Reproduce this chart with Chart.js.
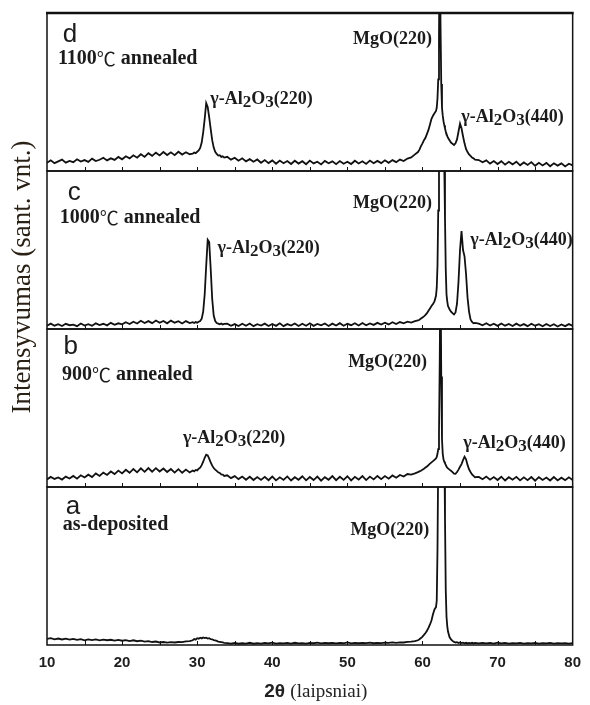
<!DOCTYPE html>
<html>
<head>
<meta charset="utf-8">
<script src="https://cdn.jsdelivr.net/npm/chart.js@4/dist/chart.umd.min.js"></script>
<style>
  html, body { margin: 0; padding: 0; background: #ffffff; }
  canvas { display: block; }
</style>
</head>
<body>
<canvas id="xrd" width="590" height="705"></canvas>
<script>
// Diffraction angle 2θ (degrees), shared by all four patterns
const twoTheta = [
  10,10.5,11,11.5,12,12.5,13,13.5,14,14.5,15,15.5,16,16.5,17,17.5,18,18.5,19,19.5,20,20.5,21,21.5,22,22.5,23,23.5,24,24.5,25,25.5,26,26.5,27,27.5,28,28.5,29,
  29.4,29.6,29.8,30,30.2,30.4,30.6,30.8,31,31.2,31.4,31.6,31.8,32,32.2,32.4,32.6,32.8,33,33.2,33.4,33.6,
  34,34.5,35,35.5,36,36.5,37,37.5,38,38.5,39,39.5,40,40.5,41,41.5,42,42.5,43,43.5,44,44.5,45,45.5,46,46.5,47,47.5,48,48.5,49,49.5,50,50.5,51,51.5,52,52.5,53,53.5,54,54.5,55,55.5,56,56.5,57,57.5,58,58.5,59,
  59.4,59.6,59.8,60,60.2,60.4,60.6,60.8,61,61.2,61.4,61.6,61.8,
  61.9,62,62.1,62.2,62.3,62.4,62.5,62.6,62.7,62.8,62.9,63,63.1,63.2,63.3,63.4,
  63.6,63.8,64,64.2,64.4,64.6,64.8,65,65.2,65.4,65.6,65.8,66,66.2,66.4,66.6,66.8,67,
  67.5,68,68.5,69,69.5,70,70.5,71,71.5,72,72.5,73,73.5,74,74.5,75,75.5,76,76.5,77,77.5,78,78.5,79,79.5,80
];

// (d) 1100 °C annealed
const intensity1100 = [
  5.2,6.8,5.0,6.1,7.2,5.3,6.4,5.6,7.4,6.0,6.9,5.8,7.8,6.3,7.1,8.4,6.7,8.0,7.0,8.9,7.4,9.3,8.0,9.9,8.4,10.6,8.9,11.3,9.6,11.6,9.9,12.0,10.1,11.8,10.0,12.2,10.4,11.9,10.6,
  11.0,11.7,11.3,12.2,13.0,14.6,18.0,24.5,33.0,43.0,40.5,34.0,26.5,19.5,14.8,12.2,10.8,9.8,10.0,8.9,9.3,8.5,
  9.0,7.2,8.4,6.5,8.0,6.1,7.5,5.9,7.3,5.2,6.9,5.0,6.7,4.6,6.6,4.9,6.3,4.4,6.5,4.7,6.2,4.3,6.6,4.8,5.9,4.2,6.4,4.9,6.1,4.3,6.3,4.6,5.9,4.4,6.5,4.8,6.2,4.5,6.6,4.9,6.4,5.0,6.8,5.2,6.9,5.6,7.2,6.3,7.9,8.6,10.5,
  12.0,13.5,15.8,17.5,19.5,21.0,23.5,26.0,29.5,33.0,35.0,36.5,38.0,
  40,46,58,85,150,95,55,40,35,31.5,29,27,25,23.5,22,21,
  19.5,18.0,17.2,16.5,17.5,20.0,25.0,30.0,27.0,22.0,17.5,14.0,12.0,10.5,9.6,8.5,8.0,7.2,
  6.9,5.5,6.7,4.7,6.3,4.4,6.2,4.0,5.8,4.2,5.9,3.6,5.4,3.8,5.6,3.3,5.2,3.5,5.1,3.0,4.9,3.4,4.8,2.9,4.6,3.6
];

// (c) 1000 °C annealed
const intensity1000 = [
  2.0,3.4,2.1,3.0,1.9,3.3,2.4,2.8,1.8,3.5,2.2,3.1,2.0,3.6,2.5,3.3,2.3,3.9,2.7,3.6,3.0,4.3,3.2,4.6,3.5,5.2,3.8,5.0,3.7,5.4,3.9,5.1,3.6,5.3,4.0,4.9,3.5,5.0,3.8,
  4.3,3.8,4.4,4.0,4.6,5.0,6.5,11.0,22.0,40.0,56.5,55.0,38.0,19.0,8.5,5.0,3.8,3.4,3.0,3.5,2.8,3.2,
  3.4,2.0,3.1,1.9,3.3,2.1,3.5,1.8,3.0,2.2,3.4,1.9,3.2,2.0,3.6,1.8,3.1,2.2,3.5,1.9,3.3,2.1,3.6,2.0,3.2,2.3,3.5,1.9,3.4,2.2,3.7,2.1,3.3,2.4,3.6,2.2,3.8,2.4,3.5,2.6,3.9,2.8,4.0,2.9,4.3,3.1,4.4,3.6,4.6,4.1,5.0,
  5.4,5.9,6.6,7.3,8.0,8.9,10.0,11.5,13.0,14.5,15.8,17.5,21.0,
  26,40,75,140,180,200,200,190,170,140,105,70,38,22,17.5,14.5,
  12.5,11.0,10.0,9.2,10.5,16.0,30.0,50.0,62.0,50.0,46.0,35.0,20.0,11.0,6.0,4.5,3.6,3.9,
  3.4,2.4,3.6,2.2,3.3,2.0,3.5,2.1,3.2,1.9,3.4,2.0,3.1,1.8,3.3,2.1,3.0,1.7,3.2,1.9,3.0,1.6,2.9,1.8,3.1,2.0
];

// (b) 900 °C annealed
const intensity900 = [
  4.8,6.4,5.1,6.0,4.7,6.6,5.4,7.0,5.3,7.4,6.0,7.8,6.3,8.6,7.0,9.1,7.6,9.8,8.2,10.4,8.6,10.9,9.0,11.4,9.3,11.8,9.6,12.0,9.7,11.9,9.8,11.7,9.5,11.4,9.1,11.3,9.0,11.0,9.2,
  10.4,9.9,10.8,10.5,11.6,12.2,13.8,16.0,18.5,20.5,20.0,18.0,15.5,13.5,12.0,11.0,10.2,9.3,8.9,8.0,7.8,7.0,
  7.4,5.6,6.9,5.0,6.6,4.6,6.5,4.4,6.3,4.5,6.4,4.3,6.6,4.2,6.1,4.5,6.7,4.1,6.2,4.6,6.8,4.2,6.3,4.4,6.6,4.0,6.2,4.6,6.9,4.3,6.5,4.5,6.8,4.2,6.4,4.7,6.9,4.4,6.6,4.8,7.0,5.0,6.9,5.3,7.3,5.9,7.6,6.6,8.2,7.9,8.6,
  9.4,9.9,10.3,11.0,11.6,12.3,13.0,13.9,14.8,15.6,16.4,17.2,18.0,
  19.0,21.0,24.0,34.0,80.0,150,70.0,30.0,21.0,17.5,16.0,15.0,14.0,13.0,12.2,11.8,
  11.0,10.3,9.4,8.4,8.3,9.5,11.0,12.8,14.5,17.0,19.2,17.5,14.0,11.2,9.5,8.0,7.0,6.2,
  6.4,4.9,6.6,4.6,6.3,4.4,6.5,4.1,6.2,4.6,6.4,4.2,6.1,4.3,6.3,4.0,6.2,4.5,6.0,4.1,6.3,4.2,5.9,4.3,6.1,4.4
];

// (a) as-deposited
const intensityAsDep = [
  3.9,4.3,3.6,4.1,3.5,4.0,3.4,3.9,3.2,3.7,3.0,3.6,3.1,3.5,2.9,3.4,3.0,3.3,2.8,3.2,2.7,3.1,2.5,3.0,2.4,2.8,2.2,2.5,1.9,2.2,1.6,1.9,1.5,1.8,1.6,1.9,1.8,2.3,2.5,
  3.0,3.8,3.4,4.3,4.0,4.6,4.2,4.8,4.4,4.6,4.1,4.3,3.7,3.6,3.1,2.9,2.6,2.2,2.0,1.8,1.6,1.4,
  1.2,0.9,1.3,0.8,1.1,0.9,1.4,0.8,1.2,0.9,1.3,1.0,1.5,0.9,1.2,1.0,1.3,0.9,1.4,1.0,1.2,0.9,1.3,1.1,1.5,1.0,1.3,1.1,1.4,1.0,1.3,1.1,1.6,1.0,1.3,1.1,1.4,1.2,1.5,1.1,1.4,1.2,1.5,1.3,1.6,1.4,1.7,1.6,2.0,2.1,2.4,
  3.0,3.6,4.4,5.3,6.4,7.6,9.0,10.8,13.0,15.5,19.5,22.5,24.0,
  28,60,120,170,200,210,210,200,185,160,130,80,35,18,12,8.5,
  5.0,3.6,2.6,2.0,1.6,1.8,1.3,1.6,1.2,1.5,1.1,1.4,1.0,1.3,1.1,1.4,1.0,1.3,
  1.0,1.4,1.0,1.3,0.9,1.5,1.0,1.3,0.9,1.2,1.0,1.3,0.9,1.2,1.0,1.3,0.9,1.2,1.0,1.3,0.9,1.2,1.0,1.1,0.9,1.2
];

const xTicks = [10, 20, 30, 40, 50, 60, 70, 80];
// panels listed top to bottom
const panelIds = ['panelD', 'panelC', 'panelB', 'panelA'];
const panelSeries = [intensity1100, intensity1000, intensity900, intensityAsDep];

// Text placed inside each panel, in data units (2θ, relative intensity 0–100)
const panelNotes = {
  panelD: [
    { kind: 'letter', text: 'd', x: 12.1, y: 86 },
    { kind: 'cond', parts: ['1100', '℃', ' annealed'], x: 11.45, y: 71 },
    { kind: 'chem', parts: ['γ-Al', '2', 'O', '3', '(220)'], x: 31.75, y: 45.6 },
    { kind: 'label', text: 'MgO(220)', x: 50.76, y: 83.5 },
    { kind: 'chem', parts: ['γ-Al', '2', 'O', '3', '(440)'], x: 65.18, y: 34.2 }
  ],
  panelC: [
    { kind: 'letter', text: 'c', x: 12.75, y: 86 },
    { kind: 'cond', parts: ['1000', '℃', ' annealed'], x: 11.7, y: 70.3 },
    { kind: 'chem', parts: ['γ-Al', '2', 'O', '3', '(220)'], x: 32.7, y: 51.3 },
    { kind: 'label', text: 'MgO(220)', x: 50.76, y: 79.7 },
    { kind: 'chem', parts: ['γ-Al', '2', 'O', '3', '(440)'], x: 66.36, y: 56.3 }
  ],
  panelB: [
    { kind: 'letter', text: 'b', x: 12.2, y: 88.6 },
    { kind: 'cond', parts: ['900', '℃', ' annealed'], x: 12.0, y: 70.9 },
    { kind: 'chem', parts: ['γ-Al', '2', 'O', '3', '(220)'], x: 28.1, y: 31 },
    { kind: 'label', text: 'MgO(220)', x: 50.1, y: 79 },
    { kind: 'chem', parts: ['γ-Al', '2', 'O', '3', '(440)'], x: 65.44, y: 27.8 }
  ],
  panelA: [
    { kind: 'letter', text: 'a', x: 12.5, y: 87.3 },
    { kind: 'cond', parts: ['as-deposited'], x: 12.1, y: 75.9 },
    { kind: 'label', text: 'MgO(220)', x: 50.4, y: 72.8 }
  ]
};

const SERIF_BOLD = 'bold 18px "Liberation Serif", "Times New Roman", serif';
const COND_FONT = 'bold 20px "Liberation Serif", "Times New Roman", serif';
const SUB_FONT = 'bold 17px "Liberation Serif", "Times New Roman", serif';
const DEGREE_FONT = '19px "Noto Sans CJK SC", "DejaVu Serif", serif';
const LETTER_FONT = '26px "Liberation Sans", Arial, sans-serif';
const INK = '#1b1b1b';

// Each pattern is clipped to its own panel; frames, ticks and labels are drawn on top
const panelPlugin = {
  id: 'panelPlugin',
  beforeDatasetDraw(chart, args) {
    const ys = chart.scales[args.meta.yAxisID];
    const a = chart.chartArea;
    const ctx = chart.ctx;
    ctx.save();
    ctx.beginPath();
    ctx.rect(a.left, ys.top, a.right - a.left, ys.bottom - ys.top);
    ctx.clip();
  },
  afterDatasetDraw(chart) {
    chart.ctx.restore();
  },
  afterDraw(chart) {
    const ctx = chart.ctx;
    const a = chart.chartArea;
    const xs = chart.scales.x;
    ctx.save();

    // panel frames
    ctx.strokeStyle = '#111';
    panelIds.forEach(id => {
      const ys = chart.scales[id];
      ctx.lineWidth = 1.5;
      ctx.strokeRect(a.left, ys.top, a.right - a.left, ys.bottom - ys.top);
      // small inward ticks every 5 degrees along each panel's bottom
      ctx.lineWidth = 1;
      ctx.beginPath();
      for (let t = 15; t < 80; t += 5) {
        const px = Math.round(xs.getPixelForValue(t)) + 0.5;
        ctx.moveTo(px, ys.bottom);
        ctx.lineTo(px, ys.bottom - 4);
      }
      ctx.stroke();
    });
    ctx.lineWidth = 2.5;
    ctx.beginPath();
    ctx.moveTo(a.left - 1, a.top);
    ctx.lineTo(a.right + 1, a.top);
    ctx.stroke();

    // notes inside panels
    ctx.fillStyle = INK;
    ctx.textBaseline = 'middle';
    ctx.textAlign = 'left';
    panelIds.forEach(id => {
      const ys = chart.scales[id];
      panelNotes[id].forEach(n => {
        const px = xs.getPixelForValue(n.x);
        const py = ys.getPixelForValue(n.y);
        if (n.kind === 'letter') {
          ctx.font = LETTER_FONT;
          ctx.fillText(n.text, px, py);
        } else if (n.kind === 'label') {
          ctx.font = SERIF_BOLD;
          ctx.fillText(n.text, px, py);
        } else if (n.kind === 'cond') {
          let cx = px;
          n.parts.forEach(p => {
            ctx.font = p === '℃' ? DEGREE_FONT : COND_FONT;
            ctx.fillText(p, cx, py);
            cx += ctx.measureText(p).width;
          });
        } else {
          let cx = px;
          n.parts.forEach((p, i) => {
            const sub = i === 1 || i === 3;
            ctx.font = sub ? SUB_FONT : SERIF_BOLD;
            ctx.fillText(p, cx, py + (sub ? 4 : 0));
            cx += ctx.measureText(p).width;
          });
        }
      });
    });

    // axis titles
    ctx.fillStyle = '#222';
    ctx.textBaseline = 'middle';
    const sansTitle = 'bold 19px "Liberation Sans", Arial, sans-serif';
    const serifTitle = '19px "Liberation Serif", "Times New Roman", serif';
    const part1 = '2θ ';
    const part2 = '(laipsniai)';
    ctx.font = sansTitle;
    const w1 = ctx.measureText(part1).width;
    ctx.font = serifTitle;
    const w2 = ctx.measureText(part2).width;
    const sx = (a.left + a.right) / 2 + 6 - (w1 + w2) / 2;
    ctx.font = sansTitle;
    ctx.fillText(part1, sx, 692);
    ctx.font = serifTitle;
    ctx.fillText(part2, sx + w1, 692);

    ctx.fillStyle = '#2a2116';
    ctx.translate(23, 277);
    ctx.rotate(-Math.PI / 2);
    ctx.textAlign = 'center';
    ctx.font = '27px "Liberation Serif", "Times New Roman", serif';
    ctx.fillText('Intensyvumas (sant. vnt.)', 0, 0);
    ctx.restore();
  }
};

const yPanel = () => ({
  type: 'linear',
  position: 'left',
  stack: 'xrd',
  stackWeight: 1,
  min: 0,
  max: 100,
  ticks: { display: false },
  grid: { display: false, drawTicks: false },
  border: { display: false }
});

// left-stacked scales are laid out in reverse declaration order,
// so the bottom panel is declared first
const yScales = {};
[...panelIds].reverse().forEach(id => { yScales[id] = yPanel(); });

new Chart(document.getElementById('xrd'), {
  type: 'line',
  data: {
    datasets: panelIds.map((id, k) => ({
      label: id,
      yAxisID: id,
      data: twoTheta.map((t, i) => ({ x: t, y: panelSeries[k][i] })),
      borderColor: '#111',
      borderWidth: 1.8,
      pointRadius: 0,
      tension: 0,
      fill: false
    }))
  },
  options: {
    responsive: false,
    animation: false,
    events: [],
    layout: { padding: { left: 47, right: 9, top: 13, bottom: 0 } },
    plugins: { legend: { display: false }, tooltip: { enabled: false } },
    scales: Object.assign({
      x: {
        type: 'linear',
        min: 10,
        max: 80,
        afterFit(scale) { scale.height = 60; },
        afterBuildTicks(scale) { scale.ticks = xTicks.map(v => ({ value: v })); },
        ticks: {
          padding: 9,
          color: '#1e1e1e',
          font: { family: '"Liberation Sans", Arial, sans-serif', size: 15, weight: 'bold' }
        },
        grid: { display: false, drawTicks: false },
        border: { display: false }
      }
    }, yScales)
  },
  plugins: [panelPlugin]
});
</script>
</body>
</html>
